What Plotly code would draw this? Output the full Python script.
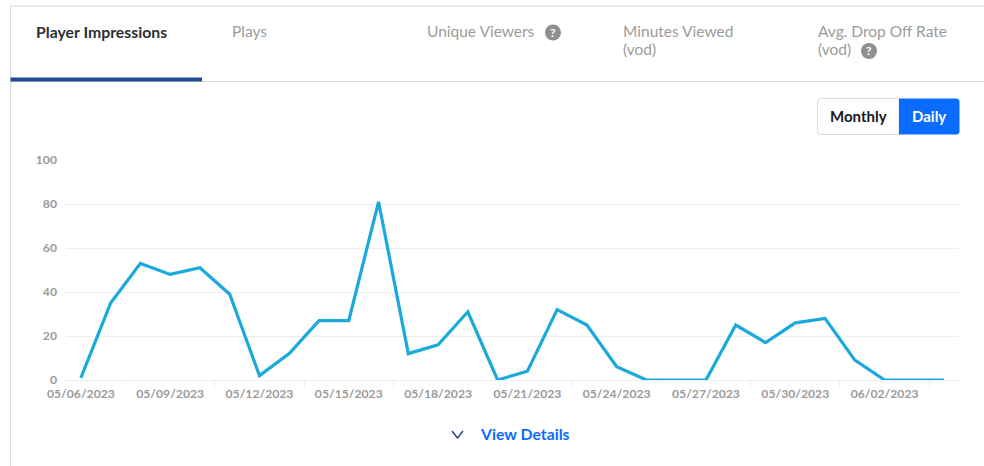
import plotly.graph_objects as go

W, H = 984, 466
dates = ["2023-05-%02d" % d for d in range(6, 32)] + ["2023-06-%02d" % d for d in range(1, 5)]
values = [1, 35, 53, 48, 51, 39, 2, 12, 27, 27, 81, 12, 16, 31, 0, 4, 32, 25, 6, 0, 0, 0, 25, 17, 26, 28, 9, 0, 0, 0]
tick_dates = dates[::3]
tick_labels = [d[5:7] + "/" + d[8:10] + "/" + d[:4] for d in tick_dates]
y_ticks = [0, 20, 40, 60, 80, 100]

FONT = "Lato, 'Open Sans', sans-serif"
GREY = "#9b9b9b"


def fx(p):
    return p / W


def fy(p):
    return 1 - p / H


def rect(x0, y0, x1, y1, fill=None, line=None, lw=1):
    return dict(type="rect", xref="paper", yref="paper", x0=fx(x0), x1=fx(x1), y0=fy(y0), y1=fy(y1),
                fillcolor=fill or "rgba(0,0,0,0)", line=dict(color=line or "rgba(0,0,0,0)", width=lw if line else 0),
                layer="below")


def seg(x0, y0, x1, y1, color, lw=1):
    return dict(type="line", xref="paper", yref="paper", x0=fx(x0), x1=fx(x1), y0=fy(y0), y1=fy(y1),
                line=dict(color=color, width=lw), layer="below")


def circle(cx, cy, r, fill):
    return dict(type="circle", xref="paper", yref="paper", x0=fx(cx - r), x1=fx(cx + r), y0=fy(cy - r), y1=fy(cy + r),
                fillcolor=fill, line=dict(width=0), layer="below")


def text(s, x, y, size=15, color=GREY, anchor="left", weight=400):
    return dict(text=s, xref="paper", yref="paper", x=fx(x), y=fy(y), showarrow=False, xanchor=anchor, yanchor="middle",
                font=dict(family=FONT, size=size, color=color, weight=weight), borderpad=0, borderwidth=0)


shapes = [
    seg(10.5, 6, 984, 6, "#e4e4e4", 1.5),
    seg(10.5, 6, 10.5, 466, "#dcdcdc", 1),
    seg(10, 81.5, 984, 81.5, "#d4d6d9", 1),
    rect(10.5, 77.5, 202, 81.5, fill="#1e4a96"),
    circle(553, 32.5, 8, "#8f8f8f"),
    circle(869, 51, 8, "#8f8f8f"),
    dict(type="path", xref="paper", yref="paper", layer="below", line=dict(color="#d9dce0", width=1), fillcolor="white",
         path=f"M {fx(821)} {fy(98.5)} L {fx(899)} {fy(98.5)} L {fx(899)} {fy(134.5)} L {fx(821)} {fy(134.5)} "
              f"Q {fx(817.5)} {fy(134.5)} {fx(817.5)} {fy(131)} L {fx(817.5)} {fy(102)} Q {fx(817.5)} {fy(98.5)} {fx(821)} {fy(98.5)} Z"),
    dict(type="path", xref="paper", yref="paper", layer="below", line=dict(width=0), fillcolor="#0a6cff",
         path=f"M {fx(899)} {fy(98.5)} L {fx(956)} {fy(98.5)} Q {fx(959.5)} {fy(98.5)} {fx(959.5)} {fy(102)} L {fx(959.5)} {fy(131)} "
              f"Q {fx(959.5)} {fy(134.5)} {fx(956)} {fy(134.5)} L {fx(899)} {fy(134.5)} Z"),
    dict(type="path", xref="paper", yref="paper", layer="above", line=dict(color="#2f4a8c", width=1.6),
         path=f"M {fx(452)} {fy(431)} L {fx(457.5)} {fy(438)} L {fx(463)} {fy(431)}"),
]

annotations = [
    text("Player Impressions", 36, 31.5, 15.8, "#2b2f36", weight=700),
    text("Plays", 232, 31.5, 15.5),
    text("Unique Viewers", 427, 31.5, 15.5),
    text("?", 553, 32.5, 12, "white", "center", 700),
    text("Minutes Viewed", 622.5, 31.5, 15.5),
    text("(vod)", 622.5, 49, 15.5),
    text("Avg. Drop Off Rate", 818, 31.5, 15.5),
    text("(vod)", 818, 49, 15.5),
    text("?", 869, 51, 12, "white", "center", 700),
    text("Monthly", 858, 115.5, 15, "#16181c", "center", 700),
    text("Daily", 929, 115.5, 15, "white", "center", 700),
    text("View Details", 480, 433.5, 15.8, "#0a6cff", weight=700),
]

fig = go.Figure(go.Scatter(x=dates, y=values, mode="lines", line=dict(color="#1aa9dc", width=3.2, shape="linear"),
                           hoverinfo="x+y"))
fig.update_layout(
    width=W, height=H, margin=dict(l=0, r=0, t=0, b=0), autosize=False,
    paper_bgcolor="white", plot_bgcolor="white", showlegend=False,
    font=dict(family=FONT, color=GREY),
    shapes=shapes, annotations=annotations,
    xaxis=dict(
        domain=[fx(66), fx(959)], anchor="y", type="date", automargin=False,
        range=["2023-05-05 12:00", "2023-06-04 12:00"],
        tickmode="array", tickvals=tick_dates, ticktext=tick_labels, ticks="", ticklen=0,
        ticklabelstandoff=2,
        tickfont=dict(size=12.2, family=FONT, color=GREY, weight=700), tickangle=0,
        showgrid=False, showline=True, linecolor="#eeeeee", linewidth=1, zeroline=False,
        minor=dict(ticks="outside", ticklen=6, tickcolor="#eeeeee", tickwidth=1, showgrid=False,
                   tick0="2023-05-07 12:00", dtick=259200000),
    ),
    yaxis=dict(
        domain=[fy(380), fy(160)], anchor="x", range=[0, 100], automargin=False,
        tickmode="array", tickvals=y_ticks, ticks="", ticklabelstandoff=8,
        tickfont=dict(size=12.2, family=FONT, color=GREY, weight=700),
        showgrid=True, gridcolor="#eeeeee", gridwidth=1, zeroline=False, showline=False,
    ),
)
fig.write_html("out.html", config=dict(displayModeBar=False),
               post_script="document.body.style.margin='0';document.body.style.overflow='hidden';window.dispatchEvent(new Event('resize'));")
